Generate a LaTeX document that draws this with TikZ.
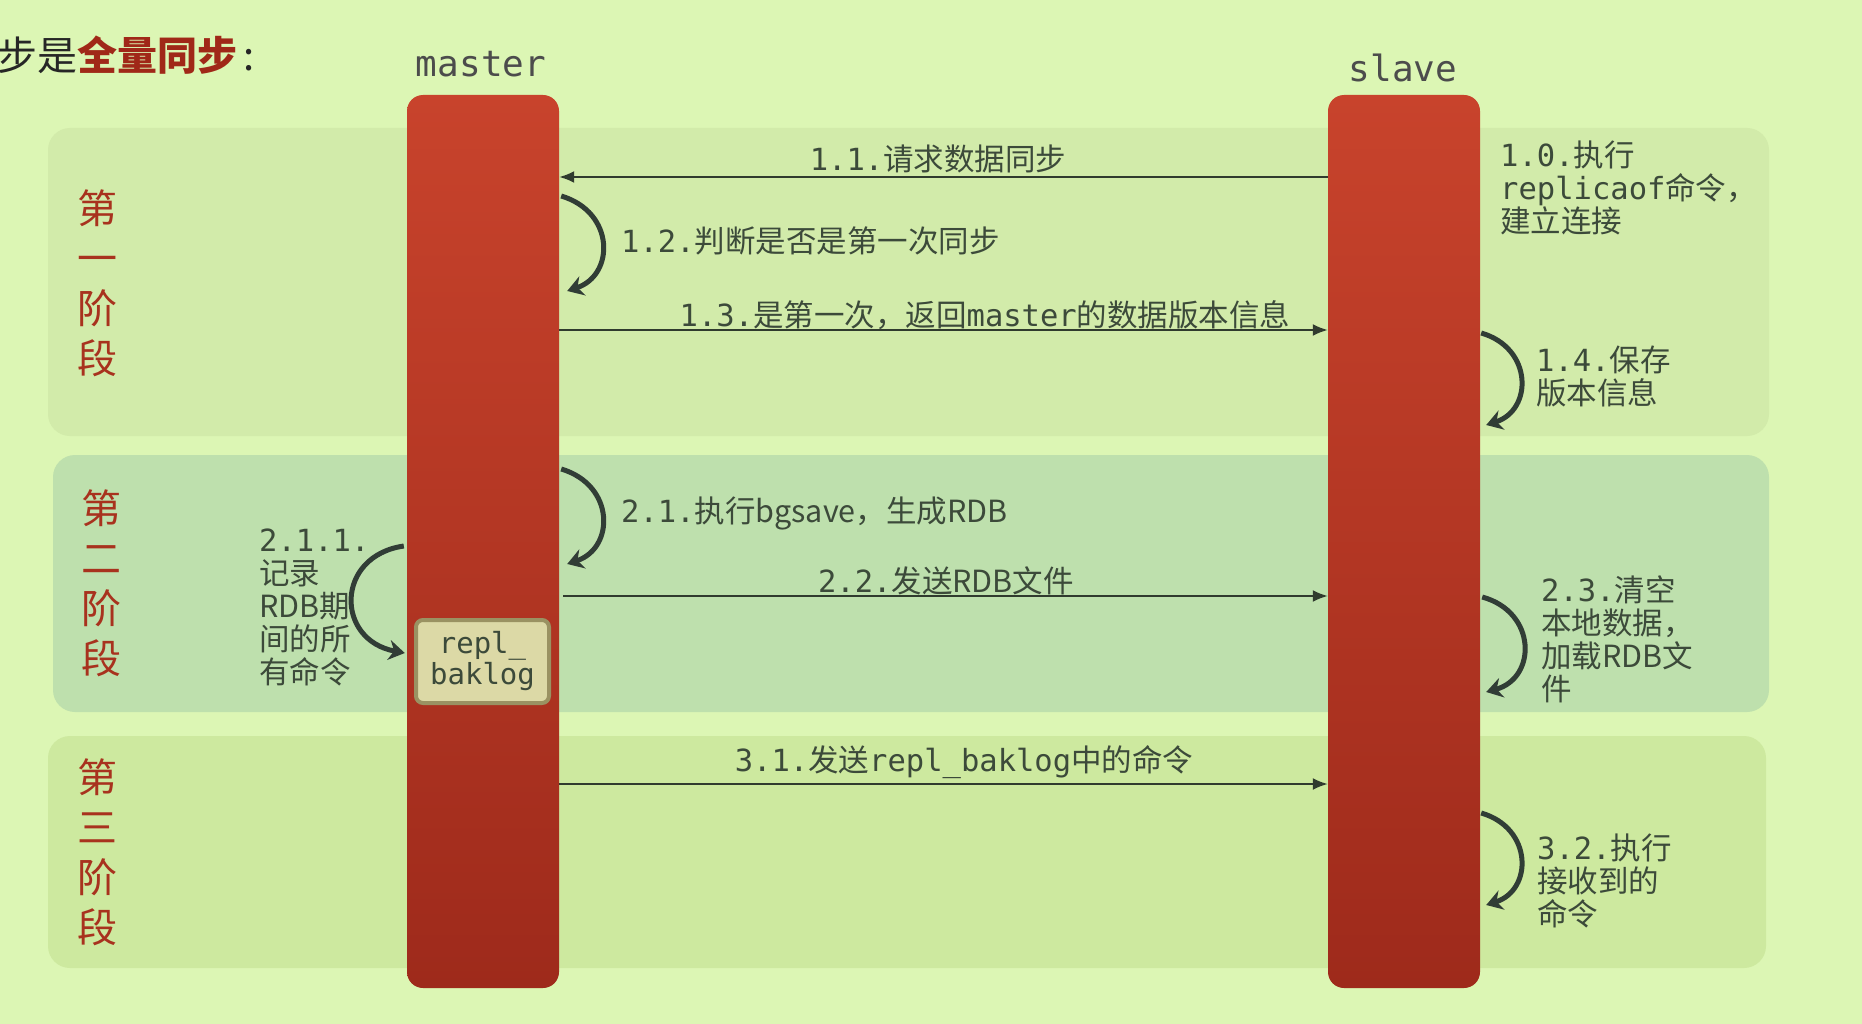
\documentclass[tikz,border=0pt]{standalone}
\usepackage{fontspec}
\setmonofont{DejaVu Sans Mono}
\newfontfamily\cjk{Noto Sans CJK SC}
\usetikzlibrary{arrows.meta}
\definecolor{bgc}{HTML}{DCF6B4}
\definecolor{panA}{HTML}{D2EBAA}
\definecolor{panB}{HTML}{BEE0AD}
\definecolor{panC}{HTML}{CDE99F}
\definecolor{txt}{HTML}{3C4A3A}
\definecolor{phase}{HTML}{A8321E}
\definecolor{darkred}{HTML}{A02818}
\definecolor{barTop}{HTML}{C8432C}
\definecolor{barBot}{HTML}{9E2A1B}
\definecolor{loopc}{HTML}{313D36}
\definecolor{boxfill}{HTML}{DCD9A6}
\definecolor{boxedge}{HTML}{9A9262}
\newcommand\lblfont{\fontsize{30.5}{33}\selectfont\ttfamily}
\newcommand\phfont{\fontsize{40}{50}\selectfont\cjk}
\tikzset{
  panel/.style={draw=none, rounded corners=22pt},
  lifebar/.style={draw=none, rounded corners=16pt, top color=barTop, bottom color=barBot, minimum width=152pt, minimum height=893pt, inner sep=0pt},
  msg/.style={draw=txt!80!black, line width=2pt, -{Latex[length=15pt,width=12pt]}},
  selfloop/.style={draw=loopc, line width=5pt, -{Stealth[length=16pt,width=20pt]}},
  lbl/.style={text=txt, font=\lblfont, inner sep=0pt},
  mlbl/.style={lbl, align=left, anchor=west},
  phlbl/.style={text=phase, font=\phfont, align=center, inner sep=0pt},
  head/.style={text=black!70, font=\fontsize{36}{40}\selectfont\ttfamily, inner sep=0pt},
  logbox/.style={draw=boxedge, line width=4pt, fill=boxfill, rounded corners=7pt, minimum width=133pt, minimum height=83pt, align=center, text=txt, font=\fontsize{29}{31}\selectfont\ttfamily, inner sep=0pt}
}
\begin{document}
\begin{tikzpicture}[x=1pt,y=-1pt]
\fill[bgc] (0,0) rectangle (1862,1024);
\useasboundingbox (0,0) rectangle (1862,1024);
% panels
\fill[panA, panel] (48,128) rectangle (1769,436);
\fill[panB, panel] (53,455) rectangle (1769,712);
\fill[panC, panel] (48,736) rectangle (1766,968);
% title
\node[anchor=west, inner sep=0pt, font=\fontsize{40}{44}\selectfont\cjk, text=black!85] (title) at (-3,55) {步是\textcolor{darkred}{\bfseries 全量同步}\,:};
% heads
\node[head] (mhead) at (481,64) {master};
\node[head] (shead) at (1403,68) {slave};
% bars
\node[lifebar] (master) at (483,541.5) {};
\node[lifebar] (slave) at (1404,541.5) {};
% phase labels
\node[phlbl] (ph1) at (97,283) {第\\一\\阶\\段};
\node[phlbl] (ph2) at (101,583) {第\\二\\阶\\段};
\node[phlbl] (ph3) at (97,852) {第\\三\\阶\\段};
% y levels
\coordinate (y11) at (0,177);
\coordinate (y13) at (0,330);
\coordinate (y22) at (0,596);
\coordinate (y31) at (0,784);
\coordinate (a12) at (0,196); \coordinate (b12) at (0,291);
\coordinate (a14) at (0,333); \coordinate (b14) at (0,425);
\coordinate (a21) at (0,469); \coordinate (b21) at (0,564);
\coordinate (a211) at (0,546); \coordinate (b211) at (0,653);
\coordinate (a23) at (0,597); \coordinate (b23) at (0,692);
\coordinate (a32) at (0,813); \coordinate (b32) at (0,905);
% repl_baklog box
\node[logbox] (baklog) at (482.5,661.5) {repl\_\\baklog};
% messages
\draw[msg] (slave.west |- y11) -- (master.east |- y11);
\draw[msg] (master.east |- y13) -- (slave.west |- y13);
\draw[msg] ([xshift=4pt]master.east |- y22) -- (slave.west |- y22);
\draw[msg] (master.east |- y31) -- (slave.west |- y31);
% message labels
\node[lbl] (t11) at (938,159) {1.1.{\cjk 请求数据同步}};
\node[lbl] (t13) at (985,315) {1.3.{\cjk 是第一次，返回}master{\cjk 的数据版本信息}};
\node[lbl] (t22) at (946,581) {2.2.{\cjk 发送RDB文件}};
\node[lbl] (t31) at (964,762) {3.1.{\cjk 发送}repl\_baklog{\cjk 中的命令}};
% self loops
\draw[selfloop] ([xshift=2pt]master.east |- a12) .. controls (615,212) and (615,275) .. ([xshift=8pt]master.east |- b12);
\draw[selfloop] ([xshift=2pt]master.east |- a21) .. controls (615,485) and (615,548) .. ([xshift=8pt]master.east |- b21);
\draw[selfloop] ([xshift=-3pt]master.west |- a211) .. controls (335,556) and (335,640) .. ([xshift=-2pt]master.west |- b211);
\draw[selfloop] ([xshift=1pt]slave.east |- a14) .. controls (1533,348) and (1533,410) .. ([xshift=6pt]slave.east |- b14);
\draw[selfloop] ([xshift=2pt]slave.east |- a23) .. controls (1537,612) and (1537,678) .. ([xshift=6pt]slave.east |- b23);
\draw[selfloop] ([xshift=1pt]slave.east |- a32) .. controls (1533,828) and (1533,890) .. ([xshift=6pt]slave.east |- b32);
% loop labels
\node[lbl, anchor=west] (t12) at (621,241) {1.2.{\cjk 判断是否是第一次同步}};
\node[lbl, anchor=west] (t21) at (621,513) {2.1.{\cjk 执行bgsave，生成RDB}};
\node[mlbl] (t10) at (1500,188) {1.0.{\cjk 执行}\\replicaof{\cjk 命令，}\\{\cjk 建立连接}};
\node[mlbl] (t14) at (1536,376) {1.4.{\cjk 保存}\\{\cjk 版本信息}};
\node[mlbl] (t211) at (259,607) {2.1.1.\\{\cjk 记录}\\{\cjk RDB期}\\{\cjk 间的所}\\{\cjk 有命令}};
\node[mlbl] (t23) at (1541,639) {2.3.{\cjk 清空}\\{\cjk 本地数据，}\\{\cjk 加载RDB文}\\{\cjk 件}};
\node[mlbl] (t32) at (1537,881) {3.2.{\cjk 执行}\\{\cjk 接收到的}\\{\cjk 命令}};
\end{tikzpicture}
\end{document}
